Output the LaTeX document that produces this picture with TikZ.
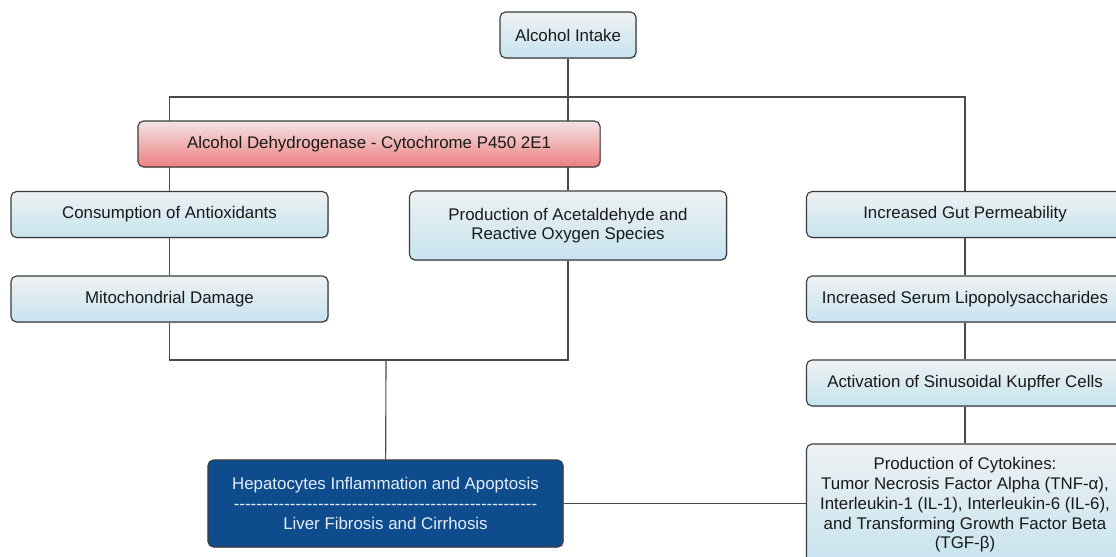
\documentclass[tikz,border=0pt]{standalone}
\usepackage{fontspec}
\setmainfont{Liberation Sans}
\usetikzlibrary{shadows,backgrounds}
\definecolor{boxtop}{HTML}{EEF1F3}
\definecolor{boxbot}{HTML}{C6E4EF}
\definecolor{redtop}{HTML}{F3E3E3}
\definecolor{redbot}{HTML}{EE7F80}
\definecolor{hepblue}{HTML}{0F4C8E}
\definecolor{heptext}{HTML}{E4EDF7}
\definecolor{edge}{HTML}{3C3C3C}
\definecolor{wire}{HTML}{4A4A4A}
\newcommand{\hy}{-\kern0pt}
\newcommand{\hysix}{\hy\hy\hy\hy\hy\hy}
\newcommand{\hyrow}{\hysix\hysix\hysix\hysix\hysix\hysix\hysix\hysix\hysix}

\begin{document}
\begin{tikzpicture}[x=0.025cm, y=-0.025cm,
	base/.style={draw=edge, line width=0.8pt, rounded corners=4pt, align=center, font=\fontsize{12pt}{14pt}\selectfont, minimum width=7.925cm, minimum height=1.15cm, drop shadow={shadow xshift=0.8pt, shadow yshift=-0.8pt, opacity=0.35}},
	box/.style={base, top color=boxtop, bottom color=boxbot, text=black!90},
	link/.style={draw=wire, line width=0.8pt}]
	\useasboundingbox (0,0) rectangle (1116,557);
	\clip (0,0) rectangle (1116,557);

	\node [box, minimum width=3.4cm] (AI) at (568,35) {Alcohol Intake};
	\node [box, minimum width=11.55cm, top color=redtop, bottom color=redbot] (ADH) at (369,144) {Alcohol Dehydrogenase - Cytochrome P450 2E1};
	\node [box] (CA) at (169.5,214.5) {Consumption of Antioxidants};
	\node [box] (MD) at (169.5,299) {Mitochondrial Damage};
	\node [box, minimum height=1.725cm] (PA) at (568,225.5) {Production of Acetaldehyde and\\Reactive Oxygen Species};
	\node [box] (GP) at (965,214.5) {Increased Gut Permeability};
	\node [box] (SL) at (965,299) {Increased Serum Lipopolysaccharides};
	\node [box] (KC) at (965,383) {Activation of Sinusoidal Kupffer Cells};
	\node [box, minimum height=3.05cm] (PC) at (965,505) {Production of Cytokines:\\Tumor Necrosis Factor Alpha (TNF-α),\\Interleukin-1 (IL-1), Interleukin-6 (IL-6),\\and Transforming Growth Factor Beta\\(TGF-β)};
	\node [base, fill=hepblue, text=heptext, minimum width=8.875cm, minimum height=2.175cm] (HA) at (385.5,503.5) {Hepatocytes Inflammation and Apoptosis\\\hyrow\\Liver Fibrosis and Cirrhosis};

	\begin{scope}[on background layer]
		\coordinate (bus) at (568,97);
		\coordinate (join) at (386,360);
		\draw [link] (CA) |- (bus) -| (GP);
		\draw [link] (AI) -- (PA);
		\draw [link] (CA) -- (MD);
		\draw [link] (MD) |- (join) -| (PA);
		\draw [link] (join) -- (HA);
		\draw [link] (GP) -- (SL) -- (KC) -- (PC);
		\draw [link] (HA) -- (HA -| PC.west);
	\end{scope}
\end{tikzpicture}
\end{document}
